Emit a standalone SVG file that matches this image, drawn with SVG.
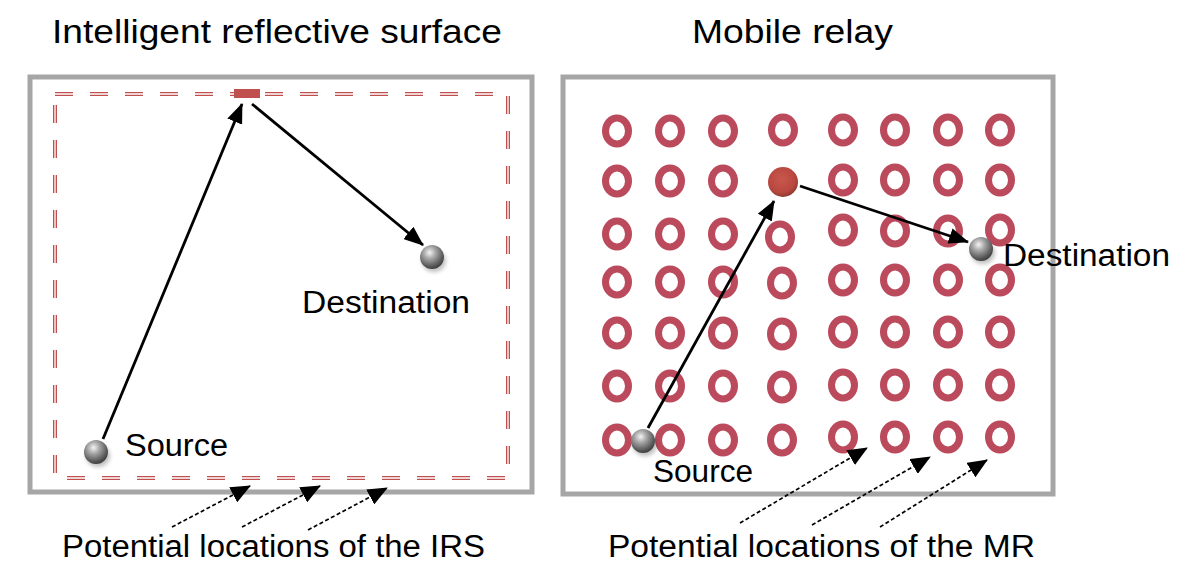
<svg xmlns="http://www.w3.org/2000/svg" xmlns:xlink="http://www.w3.org/1999/xlink" width="1186" height="584" viewBox="0 0 1186 584">
  <style>
    .box { fill: #ffffff; stroke: #a6a6a6; stroke-width: 5; }
    .lbl { font-family: "Liberation Sans", Arial, sans-serif; fill: #000000; }
    .title { font-size: 34px; }
    .txt { font-size: 31px; }
    .conn { stroke: #000000; stroke-width: 2.8; fill: none; }
    .dconn { stroke: #000000; stroke-width: 1.7; stroke-dasharray: 4 2.5; fill: none; }
    .ring { fill: none; stroke: #bb4b5c; stroke-width: 7; }
    .dashA { fill: none; stroke: #c0504d; stroke-width: 4; stroke-dasharray: 18 17; }
    .dashB { fill: none; stroke: #ffffff; stroke-width: 1.3; stroke-dasharray: 18 17; }
  </style>
  <defs>
    <radialGradient id="sphere" cx="0.4" cy="0.32" r="0.7">
      <stop offset="0" stop-color="#f4f4f4"/>
      <stop offset="0.35" stop-color="#a8a8a8"/>
      <stop offset="0.8" stop-color="#5a5a5a"/>
      <stop offset="1" stop-color="#3c3c3c"/>
    </radialGradient>
    <radialGradient id="relay" cx="0.45" cy="0.4" r="0.6">
      <stop offset="0" stop-color="#c9574e"/>
      <stop offset="0.75" stop-color="#b8483f"/>
      <stop offset="1" stop-color="#8e3a34"/>
    </radialGradient>
    <filter id="blur" x="-50%" y="-50%" width="200%" height="200%">
      <feGaussianBlur stdDeviation="2"/>
    </filter>
    <marker id="ah" viewBox="0 0 20 16" refX="19" refY="8" markerWidth="20" markerHeight="16" markerUnits="userSpaceOnUse" orient="auto">
      <path d="M0,0 L20,8 L0,16 Z" fill="#000000"/>
    </marker>
    <marker id="ahd" viewBox="0 0 20 17" refX="19" refY="8.5" markerWidth="20" markerHeight="17" markerUnits="userSpaceOnUse" orient="auto">
      <path d="M0,0 L20,8.5 L0,17 Z" fill="#000000"/>
    </marker>
    <ellipse id="rg" cx="0" cy="0" rx="11.5" ry="13" class="ring"/>
    <g id="ball">
      <ellipse cx="2" cy="4" rx="12" ry="11" fill="#000000" opacity="0.25" filter="url(#blur)"/>
      <circle cx="0" cy="0" r="12" fill="url(#sphere)"/>
    </g>
  </defs>

  <rect width="1186" height="584" fill="#ffffff"/>

  <!-- Titles -->
  <text class="lbl title" x="52" y="43" textLength="450" lengthAdjust="spacingAndGlyphs">Intelligent reflective surface</text>
  <text class="lbl title" x="692" y="43" textLength="201" lengthAdjust="spacingAndGlyphs">Mobile relay</text>

  <!-- Left panel: IRS -->
  <g id="irs-panel">
    <rect class="box" x="30" y="77" width="502" height="415"/>
    <rect class="dashA" x="55" y="94" width="453" height="384"/>
    <rect class="dashB" x="55" y="94" width="453" height="384"/>
  </g>
  <g id="irs">
    <rect x="234" y="89" width="26" height="9" fill="#c0504d"/>
  </g>
  <g id="irs-source">
    <use xlink:href="#ball" x="96" y="452"/>
    <text class="lbl txt" x="125" y="456" textLength="103" lengthAdjust="spacingAndGlyphs">Source</text>
  </g>
  <g id="irs-destination">
    <use xlink:href="#ball" x="432" y="257"/>
    <text class="lbl txt" x="302" y="313" textLength="168" lengthAdjust="spacingAndGlyphs">Destination</text>
  </g>
  <g id="irs-label">
    <text class="lbl txt" x="62" y="557" textLength="423" lengthAdjust="spacingAndGlyphs">Potential locations of the IRS</text>
  </g>

  <!-- Right panel: Mobile relay -->
  <g id="mr-panel">
    <rect class="box" x="563" y="77" width="490" height="417"/>
  </g>
  <g id="mr-grid">
    <use xlink:href="#rg" x="617" y="131"/><use xlink:href="#rg" x="670" y="131"/><use xlink:href="#rg" x="723" y="131"/><use xlink:href="#rg" x="783" y="130"/><use xlink:href="#rg" x="843" y="130"/><use xlink:href="#rg" x="895" y="130"/><use xlink:href="#rg" x="948" y="130"/><use xlink:href="#rg" x="1000" y="130"/>
    <use xlink:href="#rg" x="617" y="181"/><use xlink:href="#rg" x="670" y="181"/><use xlink:href="#rg" x="723" y="181"/><use xlink:href="#rg" x="843" y="180"/><use xlink:href="#rg" x="895" y="180"/><use xlink:href="#rg" x="948" y="180"/><use xlink:href="#rg" x="1000" y="180"/>
    <use xlink:href="#rg" x="617" y="234"/><use xlink:href="#rg" x="670" y="234"/><use xlink:href="#rg" x="723" y="234"/><use xlink:href="#rg" x="780" y="237"/><use xlink:href="#rg" x="843" y="230"/><use xlink:href="#rg" x="895" y="231"/><use xlink:href="#rg" x="948" y="231"/><use xlink:href="#rg" x="1000" y="230"/>
    <use xlink:href="#rg" x="617" y="282"/><use xlink:href="#rg" x="670" y="282"/><use xlink:href="#rg" x="723" y="282"/><use xlink:href="#rg" x="782" y="283"/><use xlink:href="#rg" x="843" y="280"/><use xlink:href="#rg" x="895" y="280"/><use xlink:href="#rg" x="948" y="280"/><use xlink:href="#rg" x="1000" y="280"/>
    <use xlink:href="#rg" x="617" y="333"/><use xlink:href="#rg" x="670" y="333"/><use xlink:href="#rg" x="723" y="333"/><use xlink:href="#rg" x="782" y="334"/><use xlink:href="#rg" x="843" y="332"/><use xlink:href="#rg" x="895" y="332"/><use xlink:href="#rg" x="948" y="332"/><use xlink:href="#rg" x="1000" y="332"/>
    <use xlink:href="#rg" x="617" y="386"/><use xlink:href="#rg" x="670" y="386"/><use xlink:href="#rg" x="723" y="386"/><use xlink:href="#rg" x="782" y="387"/><use xlink:href="#rg" x="843" y="385"/><use xlink:href="#rg" x="895" y="385"/><use xlink:href="#rg" x="948" y="385"/><use xlink:href="#rg" x="1000" y="385"/>
    <use xlink:href="#rg" x="617" y="440"/><use xlink:href="#rg" x="670" y="440"/><use xlink:href="#rg" x="723" y="440"/><use xlink:href="#rg" x="782" y="440"/><use xlink:href="#rg" x="843" y="437"/><use xlink:href="#rg" x="895" y="437"/><use xlink:href="#rg" x="948" y="437"/><use xlink:href="#rg" x="1000" y="437"/>
  </g>
  <g id="mr-relay">
    <circle cx="783" cy="182" r="15" fill="url(#relay)"/>
  </g>
  <g id="mr-source">
    <use xlink:href="#ball" x="643" y="441"/>
    <text class="lbl txt" x="653" y="482" textLength="100" lengthAdjust="spacingAndGlyphs">Source</text>
  </g>
  <g id="mr-destination">
    <use xlink:href="#ball" x="981" y="249"/>
    <text class="lbl txt" x="1003" y="266" textLength="167" lengthAdjust="spacingAndGlyphs">Destination</text>
  </g>
  <g id="mr-label">
    <text class="lbl txt" x="608" y="557" textLength="427" lengthAdjust="spacingAndGlyphs">Potential locations of the MR</text>
  </g>

  <!-- Connectors -->
  <g id="connectors">
    <line class="conn" x1="103" y1="439" x2="242" y2="104" marker-end="url(#ah)"/>
    <line class="conn" x1="252" y1="104" x2="423" y2="245" marker-end="url(#ah)"/>
    <line class="conn" x1="648" y1="428" x2="774" y2="201" marker-end="url(#ah)"/>
    <line class="conn" x1="800" y1="186" x2="968" y2="242" marker-end="url(#ah)"/>
    <line class="dconn" x1="172" y1="527" x2="250" y2="486" marker-end="url(#ahd)"/>
    <line class="dconn" x1="242" y1="527" x2="320" y2="486" marker-end="url(#ahd)"/>
    <line class="dconn" x1="308" y1="530" x2="387" y2="488" marker-end="url(#ahd)"/>
    <line class="dconn" x1="740" y1="523" x2="867" y2="448" marker-end="url(#ahd)"/>
    <line class="dconn" x1="812" y1="525" x2="930" y2="457" marker-end="url(#ahd)"/>
    <line class="dconn" x1="880" y1="527" x2="987" y2="460" marker-end="url(#ahd)"/>
  </g>
</svg>
